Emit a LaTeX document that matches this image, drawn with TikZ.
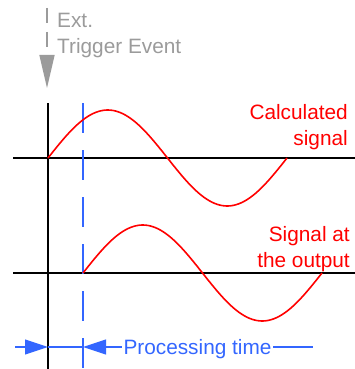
\documentclass[tikz,border=0pt]{standalone}
\usepackage{fontspec}
\setmainfont{Liberation Sans}
\usetikzlibrary{arrows.meta}
\definecolor{sigred}{RGB}{255,0,0}
\definecolor{dimblue}{RGB}{51,102,255}
\definecolor{trggray}{RGB}{155,155,155}

\begin{document}
\begin{tikzpicture}[x=1pt, y=-1pt,
  axis/.style={line width=1.8pt, black},
  sig/.style={line width=1.6pt, sigred, smooth, samples=90},
  dim/.style={line width=1.1pt, dimblue},
  lbl/.style={font=\fontsize{20.8}{25.5}\selectfont, inner sep=0pt}]
\useasboundingbox (0,0) rectangle (355,369);
% axes
\coordinate (vtop) at (48,103);
\coordinate (vbot) at (48,369);
\coordinate (h1l) at (13,158);
\coordinate (h1r) at (355,158);
\coordinate (h2l) at (13,273);
\coordinate (h2r) at (355,273);
\draw[axis] (vtop) -- (vbot);
\draw[axis] (h1l) -- (h1r);
\draw[axis] (h2l) -- (h2r);
% trigger
\coordinate (trg0) at (47,8);
\coordinate (trg1) at (47,88);
\draw[trggray, line width=1.5pt, dash pattern=on 15pt off 9pt, -{Triangle[length=33pt, width=15pt]}] (trg0) -- (trg1);
\node[lbl, trggray, align=left, anchor=north west] (ext) at (57,13) {Ext.\\Trigger Event};
% delayed start
\coordinate (dtop) at (83,103);
\coordinate (dbot) at (83,369);
\draw[dimblue, line width=1.6pt, dash pattern=on 30pt off 17pt] (dtop) -- (dbot);
% signals
\draw[sig, domain=0:239] plot ({48+\x},{158-48*sin(1.5063*\x)});
\draw[sig, domain=0:239] plot ({83+\x},{273-48*sin(1.5063*\x)});
\node[lbl, sigred, align=right, anchor=north east] (calc) at (348,104.5) {Calculated\\signal};
\node[lbl, sigred, align=right, anchor=north east] (out) at (350,226.5) {Signal at\\the output};
% processing time
\coordinate (pl) at (15,347);
\coordinate (p0) at (48,347);
\coordinate (p1) at (83,347);
\coordinate (pr) at (313,347);
\node[lbl, dimblue, inner xsep=1.5pt, anchor=base] (proc) at (197.5,354) {Processing time};
\draw[dim, -{Triangle[length=23pt, width=15pt]}] (pl) -- (p0);
\draw[dim] (p0) -- (p1);
\draw[dim, -{Triangle[length=23pt, width=15pt]}] (proc.west |- p1) -- (p1);
\draw[dim] (proc.east |- p1) -- (pr);
\end{tikzpicture}
\end{document}
